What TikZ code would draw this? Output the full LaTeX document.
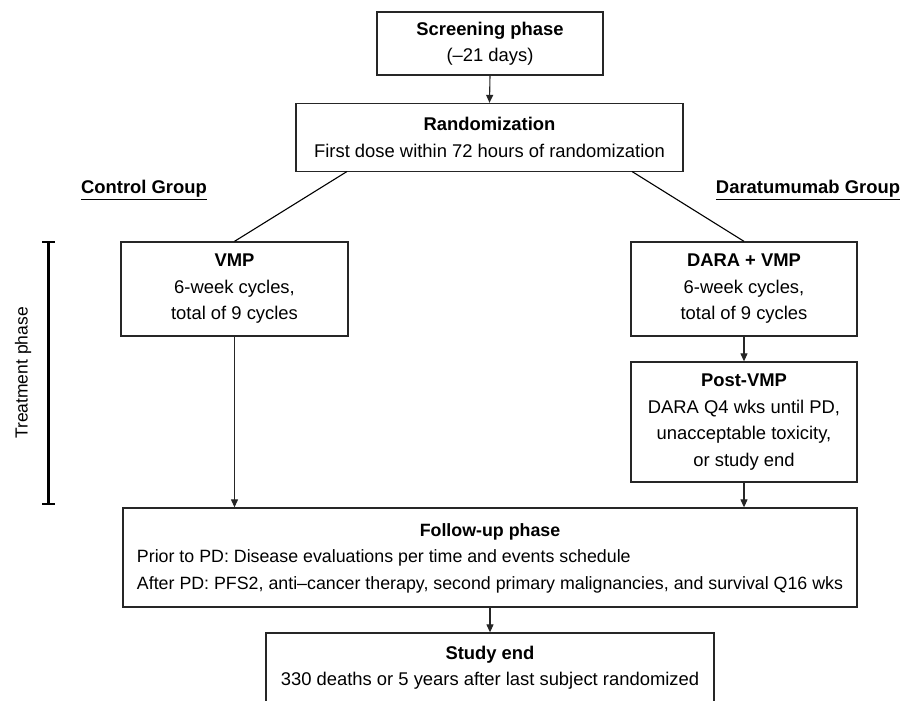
\documentclass[tikz,border=0pt]{standalone}
\usepackage{fontspec}
\setmainfont{Liberation Sans}
\usetikzlibrary{arrows.meta}
\begin{document}
\begin{tikzpicture}[x=1pt,y=-1pt,
  every node/.style={font=\fontsize{18.4}{26.5}\selectfont},
  box/.style={draw=black!85, line width=1.3pt, align=center, inner sep=0pt},
  link/.style={draw=black, line width=1.1pt},
  arr/.style={draw=black!85, line width=1.1pt, -{Triangle[length=8pt,width=7pt]}},
  grouplabel/.style={inner sep=0pt},
  bracket/.style={draw=black, line width=2.3pt}]
\useasboundingbox (0,0) rectangle (906,701);
\clip (0,0) rectangle (906,701);
\fill[white] (0,0) rectangle (906,701);

\node[box, minimum width=226pt, minimum height=63pt] (scr) at (490,43.5)
  {\textbf{Screening phase}\\(–21 days)};
\node[box, minimum width=387pt, minimum height=68pt] (rand) at (489.5,137.5)
  {\textbf{Randomization}\\First dose within 72 hours of randomization};
\node[grouplabel] (ctrl) at (144,190) {\underline{\textbf{Control Group}}};
\node[grouplabel] (dgrp) at (808,190) {\underline{\textbf{Daratumumab Group}}};
\node[box, minimum width=227pt, minimum height=94pt] (vmp) at (234.5,289)
  {\textbf{VMP}\\6-week cycles,\\total of 9 cycles};
\node[box, minimum width=226pt, minimum height=94pt] (dara) at (744,289)
  {\textbf{DARA + VMP}\\6-week cycles,\\total of 9 cycles};
\node[box, minimum width=226pt, minimum height=120pt] (post) at (744,422)
  {\textbf{Post-VMP}\\DARA Q4 wks until PD,\\unacceptable toxicity,\\or study end};
\node[box, minimum width=734pt, minimum height=99pt, font=\fontsize{17.8}{26.5}\selectfont] (follow) at (490,557.5)
  {\begin{tabular}{@{}l@{}}\multicolumn{1}{c}{\textbf{Follow-up phase}}\\
  Prior to PD: Disease evaluations per time and events schedule\\
  After PD: PFS2, anti–cancer therapy, second primary malignancies, and survival Q16 wks\end{tabular}};
\node[box, minimum width=448pt, minimum height=69pt] (send) at (490,667.5)
  {\textbf{Study end}\\330 deaths or 5 years after last subject randomized};
\node[rotate=90, font=\fontsize{17.5}{22}\selectfont] (tphase) at (23,373) {Treatment phase};

\coordinate (rl) at (347,171.5);
\coordinate (rr) at (632,171.5);
\draw[arr] (scr.south) -- (rand.north);
\draw[link] (rl) -- (vmp.north);
\draw[link] (rr) -- (dara.north);
\draw[arr] (vmp.south) -- (vmp.south |- follow.north);
\draw[arr] (dara.south) -- (post.north);
\draw[arr] (post.south) -- (post.south |- follow.north);
\draw[arr] (follow.south) -- (send.north);

\draw[bracket] (42,242) -- (55,242) (48.5,242) -- (48.5,504) (42,504) -- (55,504);
\end{tikzpicture}
\end{document}
